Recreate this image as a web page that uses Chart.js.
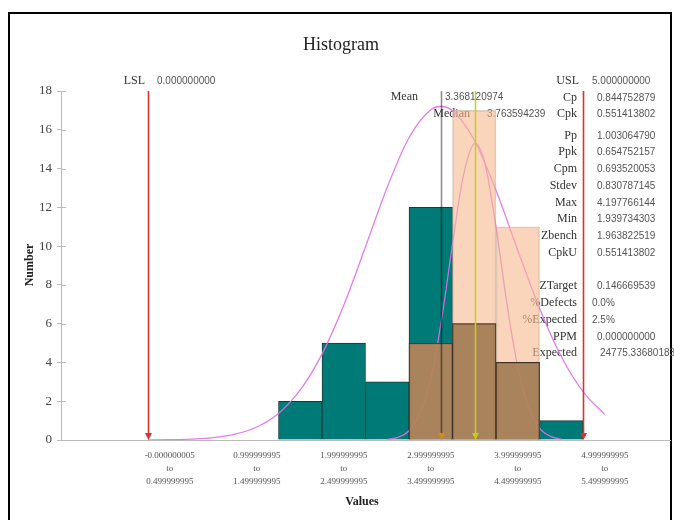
<!DOCTYPE html>
<html>
<head>
<meta charset="utf-8">
<script src="https://cdn.jsdelivr.net/npm/chart.js@4.4.1/dist/chart.umd.min.js"></script>
<style>
  html, body { margin: 0; padding: 0; background: #fff; }
  #wrap { position: relative; width: 674px; height: 520px; overflow: hidden; }
  #frame { position: absolute; left: 8px; top: 12px; width: 664px; height: 600px; box-sizing: border-box; border: 2px solid #000; }
  canvas { position: absolute; left: 0; top: 0; }
</style>
</head>
<body>
<div id="wrap">
  <div id="frame"></div>
  <canvas id="c" width="674" height="520"></canvas>
</div>
<script>
// Histogram bins (lower edge) and counts for the two samples
const binLow = [1.5, 2.0, 2.5, 3.0, 3.5, 4.0, 4.5];
const binWidth = 0.5;
const countsA = [2, 5, 3, 12, 6, 4, 1];
const countsB = [0, 0, 0, 5, 17, 11, 0];

// Axis category labels (bin ranges)
const binLabels = [
  ['-0.000000005', '0.499999995'],
  ['0.999999995', '1.499999995'],
  ['1.999999995', '2.499999995'],
  ['2.999999995', '3.499999995'],
  ['3.999999995', '4.499999995'],
  ['4.999999995', '5.499999995']
];
const yTicks = [0, 2, 4, 6, 8, 10, 12, 14, 16, 18];

// Fitted curves
const fitWideX = [0, 0.25, 0.5, 0.75, 1, 1.25, 1.5, 1.75, 2, 2.25, 2.5, 2.75, 3, 3.25, 3.37, 3.5, 3.75, 4, 4.25, 4.5, 4.75, 5, 5.25];
const fitWideY = [0.005, 0.015, 0.044, 0.12, 0.30, 0.67, 1.37, 2.58, 4.43, 6.95, 9.97, 13.04, 15.59, 17.03, 17.2, 16.98, 15.47, 12.88, 9.79, 6.80, 4.31, 2.50, 1.32];
const fitNarrowX = [2.75, 2.875, 3, 3.125, 3.25, 3.375, 3.5, 3.625, 3.76, 3.875, 4, 4.125, 4.25, 4.375, 4.5, 4.625, 4.75];
const fitNarrowY = [0.03, 0.14, 0.48, 1.35, 3.18, 6.22, 10.11, 13.64, 15.3, 14.22, 10.99, 7.05, 3.76, 1.66, 0.61, 0.19, 0.05];

// Specification limits and summary statistics
const LSL = 0.0, USL = 5.0;
const MEAN = 3.368120974, MEDIAN = 3.763594239;
const statNamesTop = ['Cp', 'Cpk', 'Pp', 'Ppk', 'Cpm', 'Stdev', 'Max', 'Min', 'Zbench', 'CpkU'];
const statValuesTop = ['0.844752879', '0.551413802', '1.003064790', '0.654752157', '0.693520053',
                       '0.830787145', '4.197766144', '1.939734303', '1.963822519', '0.551413802'];
const statNamesBottom = ['ZTarget', '%Defects', '%Expected', 'PPM', 'Expected'];
const statValuesBottom = ['0.146669539', '0.0%', '2.5%', '0.000000000', '24775.336801837'];

const centers = binLow.map(v => v + binWidth / 2);
const overlap = countsA.map((v, i) => Math.min(v, countsB[i]));
const tickVals = binLabels.map(p => (parseFloat(p[0]) + parseFloat(p[1])) / 2);

const SERIF = '"Liberation Serif", "Times New Roman", serif';
const SANS = '"Liberation Sans", Arial, sans-serif';

function txt(ctx, s, x, y, font, color, align) {
  ctx.font = font; ctx.fillStyle = color; ctx.textAlign = align || 'left'; ctx.textBaseline = 'middle';
  ctx.fillText(s, x, y);
}

const decor = {
  id: 'decor',
  beforeDatasetsDraw(chart) {
    const ctx = chart.ctx, ys = chart.scales.y, ca = chart.chartArea;
    ctx.save();
    // small inner tick marks on the value axis
    ctx.strokeStyle = '#bbb'; ctx.lineWidth = 1;
    yTicks.forEach(t => {
      const py = Math.round(ys.getPixelForValue(t)) + 0.5;
      ctx.beginPath(); ctx.moveTo(ca.left, py); ctx.lineTo(ca.left + 5, py); ctx.stroke();
    });
    txt(ctx, 'Histogram', 341, 45, '18px ' + SERIF, '#222', 'center');
    txt(ctx, 'Values', 362, 502, 'bold 12px ' + SERIF, '#222', 'center');
    ctx.save();
    ctx.translate(30, 265); ctx.rotate(-Math.PI / 2);
    txt(ctx, 'Number', 0, 0, 'bold 12px ' + SERIF, '#222', 'center');
    ctx.restore();

    const lab = '12px ' + SERIF, val = '10px ' + SANS, lc = '#333', vc = '#555';
    txt(ctx, 'LSL', 145, 81, lab, lc, 'right');
    txt(ctx, LSL.toFixed(9), 157, 81, val, vc);
    txt(ctx, 'USL', 579, 81, lab, lc, 'right');
    txt(ctx, USL.toFixed(9), 592, 81, val, vc);
    txt(ctx, 'Mean', 418, 97, lab, lc, 'right');
    txt(ctx, MEAN.toFixed(9), 445, 97, val, vc);
    txt(ctx, 'Median', 470, 114, lab, lc, 'right');
    txt(ctx, MEDIAN.toFixed(9), 487, 114, val, vc);

    const topRows = [98, 114, 136, 152, 169, 186, 203, 219, 236, 253];
    statNamesTop.forEach((n, i) => {
      txt(ctx, n, 577, topRows[i], lab, lc, 'right');
      txt(ctx, statValuesTop[i], 597, topRows[i], val, vc);
    });
    const botRows = [286, 303, 320, 337, 353];
    const botX = [597, 592, 592, 597, 600];
    statNamesBottom.forEach((n, i) => {
      txt(ctx, n, 577, botRows[i], lab, lc, 'right');
      txt(ctx, statValuesBottom[i], botX[i], botRows[i], val, vc);
    });
    ctx.restore();
  },
  afterDatasetsDraw(chart) {
    const ctx = chart.ctx, xs = chart.scales.x, ys = chart.scales.y;
    const top = ys.getPixelForValue(18), bot = ys.getPixelForValue(0);
    const marks = [
      { v: LSL, line: '#d93434', head: '#d93434', w: 1.6, mode: 'source-over' },
      { v: USL, line: '#d93434', head: '#d93434', w: 1.6, mode: 'source-over' },
      { v: MEAN, line: '#8c8c8c', head: '#d08a22', w: 1.6, mode: 'multiply' },
      { v: MEDIAN, line: 'rgba(196,204,40,0.95)', head: '#c8c81e', w: 1.6, mode: 'source-over' }
    ];
    ctx.save();
    marks.forEach(m => {
      const px = Math.round(xs.getPixelForValue(m.v)) + 0.5;
      ctx.globalCompositeOperation = m.mode;
      ctx.strokeStyle = m.line; ctx.lineWidth = m.w;
      ctx.beginPath(); ctx.moveTo(px, top); ctx.lineTo(px, bot - 4); ctx.stroke();
      ctx.globalCompositeOperation = 'source-over';
      ctx.fillStyle = m.head;
      ctx.beginPath(); ctx.moveTo(px - 3.5, bot - 7); ctx.lineTo(px + 3.5, bot - 7); ctx.lineTo(px, bot); ctx.closePath(); ctx.fill();
    });
    ctx.restore();
  }
};

new Chart(document.getElementById('c'), {
  data: {
    datasets: [
      {
        type: 'bar', label: 'Sample 1', order: 5,
        data: centers.map((x, i) => ({ x, y: countsA[i] })),
        backgroundColor: '#007a76', borderColor: '#163c39', borderWidth: 1,
        grouped: false, barPercentage: 1, categoryPercentage: 1
      },
      {
        type: 'line', label: 'Fit 1', order: 4,
        data: fitWideX.map((x, i) => ({ x, y: fitWideY[i] })),
        borderColor: 'rgba(222,112,232,0.9)', borderWidth: 1.3, pointRadius: 0,
        cubicInterpolationMode: 'monotone', fill: false
      },
      {
        type: 'line', label: 'Fit 2', order: 3,
        data: fitNarrowX.map((x, i) => ({ x, y: fitNarrowY[i] })),
        borderColor: 'rgba(214,112,236,0.9)', borderWidth: 1.3, pointRadius: 0,
        cubicInterpolationMode: 'monotone', fill: false
      },
      {
        type: 'bar', label: 'Sample 2', order: 2,
        data: centers.map((x, i) => ({ x, y: countsB[i] })),
        backgroundColor: 'rgba(248,185,142,0.6)', borderColor: 'rgba(190,160,140,0.55)', borderWidth: 1,
        grouped: false, barPercentage: 1, categoryPercentage: 1
      },
      {
        type: 'bar', label: 'Overlap', order: 1,
        data: centers.map((x, i) => ({ x, y: overlap[i] })),
        backgroundColor: 'rgba(173,125,82,0.82)', borderColor: '#3d2f22', borderWidth: 1,
        grouped: false, barPercentage: 1, categoryPercentage: 1
      }
    ]
  },
  options: {
    responsive: false,
    animation: false,
    devicePixelRatio: 1,
    layout: { padding: { top: 91, right: 4, left: 0, bottom: 0 } },
    plugins: { legend: { display: false }, tooltip: { enabled: false }, title: { display: false } },
    scales: {
      x: {
        type: 'linear', min: -1, max: 6, offset: false,
        afterBuildTicks: s => { s.ticks = tickVals.map(v => ({ value: v })); },
        afterFit: s => { s.height = 80; },
        grid: { display: true, drawOnChartArea: false, drawTicks: false, color: '#bbb', offset: false },
        border: { display: true, color: '#bbb', width: 1 },
        ticks: {
          autoSkip: false, maxRotation: 0, minRotation: 0, padding: 9, color: '#555',
          font: { family: SERIF, size: 9, lineHeight: 1.45 },
          callback: (v, i) => [binLabels[i][0], 'to', binLabels[i][1]]
        }
      },
      y: {
        type: 'linear', min: 0, max: 18,
        afterBuildTicks: s => { s.ticks = yTicks.map(v => ({ value: v })); },
        afterFit: s => { s.width = 61; },
        grid: { display: true, drawOnChartArea: false, drawTicks: true, tickLength: 4, color: '#bbb' },
        border: { display: true, color: '#bbb', width: 1 },
        ticks: { padding: 5, color: '#444', font: { family: SERIF, size: 13 } }
      }
    }
  },
  plugins: [decor]
});
</script>
</body>
</html>
